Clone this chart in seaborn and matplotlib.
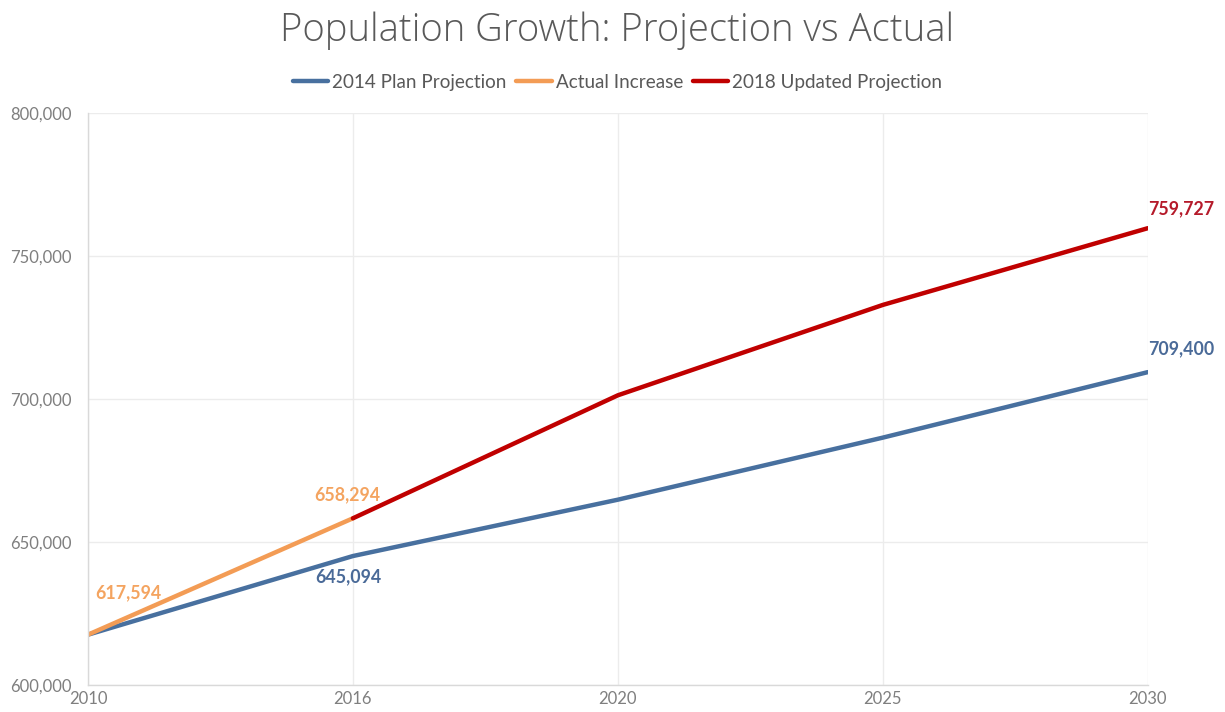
import matplotlib
matplotlib.use("Agg")
import matplotlib.pyplot as plt
import seaborn as sns
import pandas as pd

years = ["2010", "2016", "2020", "2025", "2030"]
plan_2014 = [617594, 645094, 664800, 686500, 709400]
actual_years = ["2010", "2016"]
actual = [617594, 658294]
updated_years = ["2016", "2020", "2025", "2030"]
updated_2018 = [658294, 701300, 732900, 759727]

series_names = ["2014 Plan Projection", "Actual Increase", "2018 Updated Projection"]
colors = ["#48709f", "#f39c55", "#c00000"]
label_colors = ["#4a6a98", "#f4a460", "#b51a2a"]

df = pd.concat([
    pd.DataFrame({"Year": years, "Population": plan_2014, "Series": series_names[0]}),
    pd.DataFrame({"Year": actual_years, "Population": actual, "Series": series_names[1]}),
    pd.DataFrame({"Year": updated_years, "Population": updated_2018, "Series": series_names[2]}),
], ignore_index=True)

sns.set_theme(style="white")
plt.rcParams["font.family"] = ["Lato", "DejaVu Sans"]

fig = plt.figure(figsize=(12.25, 7.12), dpi=100)
ax = fig.add_axes([0.0718, 0.0379, 0.8652, 0.8034])

sns.lineplot(data=df, x="Year", y="Population", hue="Series",
             palette=dict(zip(series_names, colors)), linewidth=3.2,
             ax=ax, legend=False, sort=False)

ax.set_xlim(0, len(years) - 1)
ax.set_ylim(600000, 800000)
ax.set_yticks([600000, 650000, 700000, 750000, 800000])
ax.yaxis.set_major_formatter(matplotlib.ticker.FuncFormatter(lambda v, p: f"{int(v):,}"))
ax.grid(True, color="#ececec", linewidth=1)
ax.set_axisbelow(True)
for s in ["top", "right"]:
    ax.spines[s].set_visible(False)
for s in ["left", "bottom"]:
    ax.spines[s].set_color("#d9d9d9")
    ax.spines[s].set_linewidth(1)
ax.tick_params(axis="both", colors="#7f7f7f", labelsize=12, length=0)
ax.tick_params(axis="y", pad=12)
ax.tick_params(axis="x", pad=4)
ax.set_xlabel("")
ax.set_ylabel("")

def lab(x, y, text, color, dx, dy):
    ax.annotate(text, xy=(x, y), xytext=(dx, dy), textcoords="offset points",
                ha="center", va="center", color=color, fontsize=12.8,
                fontweight="bold", annotation_clip=False)

lab(0, actual[0], f"{actual[0]:,}", label_colors[1], 29, 30)
lab(1, actual[1], f"{actual[1]:,}", label_colors[1], -4, 17)
lab(1, plan_2014[1], f"{plan_2014[1]:,}", label_colors[0], -3, -15)
lab(4, plan_2014[4], f"{plan_2014[4]:,}", label_colors[0], 24, 17)
lab(4, updated_2018[3], f"{updated_2018[3]:,}", label_colors[2], 24, 14)

handles = [matplotlib.lines.Line2D([], [], color=c, linewidth=3.2) for c in colors]
fig.legend(handles, series_names, loc="center", bbox_to_anchor=(0.504, 0.884),
           ncol=3, frameon=False, fontsize=13.6, labelcolor="#595959",
           handlelength=1.9, handletextpad=0.2, columnspacing=0.5)

fig.text(0.504, 0.957, "Population Growth: Projection vs Actual", ha="center", va="center",
         fontsize=27.5, color="#595959", family=["Open Sans", "DejaVu Sans"], fontweight="light")

fig.savefig("out.png", dpi=100)
